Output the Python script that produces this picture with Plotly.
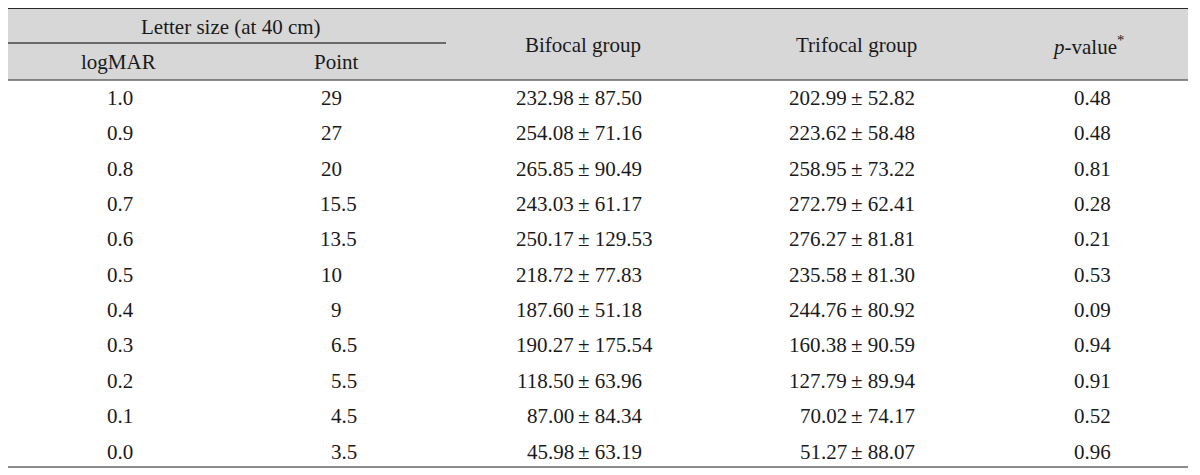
import plotly.graph_objects as go

# ---- data ----
logmar = ["1.0", "0.9", "0.8", "0.7", "0.6", "0.5", "0.4", "0.3", "0.2", "0.1", "0.0"]
point = ["29", "27", "20", "15.5", "13.5", "10", "9", "6.5", "5.5", "4.5", "3.5"]
bifocal_mean = ["232.98", "254.08", "265.85", "243.03", "250.17", "218.72", "187.60", "190.27", "118.50", "87.00", "45.98"]
bifocal_sd = ["87.50", "71.16", "90.49", "61.17", "129.53", "77.83", "51.18", "175.54", "63.96", "84.34", "63.19"]
trifocal_mean = ["202.99", "223.62", "258.95", "272.79", "276.27", "235.58", "244.76", "160.38", "127.79", "70.02", "51.27"]
trifocal_sd = ["52.82", "58.48", "73.22", "62.41", "81.81", "81.30", "80.92", "90.59", "89.94", "74.17", "88.07"]
p_values = ["0.48", "0.48", "0.81", "0.28", "0.21", "0.53", "0.09", "0.94", "0.91", "0.52", "0.96"]

header_group = "Letter size (at 40 cm)"
header_sub = ["logMAR", "Point"]
header_main = ["Bifocal group", "Trifocal group", "<i>p</i>-value<sup>*</sup>"]

# ---- layout geometry (page pixels; the page body has an 8px margin) ----
PAGE_W, PAGE_H, OFF = 1200, 475, 8
W, H = PAGE_W - OFF, PAGE_H - OFF
ROW0, ROWH = 98.0, 35.35
FONT = dict(family="Liberation Serif, Times New Roman, serif", size=21, color="#1a1a1a")


def row(pix):
    return (pix - ROW0) / ROWH


fig = go.Figure()
fig.add_trace(go.Scatter(x=[OFF, PAGE_W], y=[row(OFF), row(PAGE_H)], mode="markers",
                         marker=dict(opacity=0), hoverinfo="skip", showlegend=False))

ann = []


def add(text, x, y, xanchor="center"):
    ann.append(dict(text=text, x=x, y=y, xref="x", yref="y", xanchor=xanchor,
                    yanchor="middle", showarrow=False, font=FONT))


for i in range(len(logmar)):
    add(logmar[i], 120, i)
    if "." in point[i]:
        add(point[i], 359, i, "right")
    else:
        add(point[i], 344, i, "right")
    add(bifocal_mean[i], 576, i, "right")
    add("\u00b1 " + bifocal_sd[i], 576, i, "left")
    add(trifocal_mean[i], 849, i, "right")
    add("\u00b1 " + trifocal_sd[i], 849, i, "left")
    add(p_values[i], 1092, i)

# headers
add(header_group, 231, row(27))
add(header_sub[0], 118, row(62))
add(header_sub[1], 336, row(62))
add(header_main[0], 583, row(45))
add(header_main[1], 856, row(45))
add(header_main[2], 1088, row(45))

shapes = [
    dict(type="rect", xref="x", yref="y", x0=8, x1=1188, y0=row(8), y1=row(80),
         fillcolor="#d7d7d7", line=dict(width=0), layer="below"),
    dict(type="line", xref="x", yref="y", x0=8, x1=1188, y0=row(8), y1=row(8),
         line=dict(color="#2a2a2a", width=2)),
    dict(type="line", xref="x", yref="y", x0=8, x1=446, y0=row(43), y1=row(43),
         line=dict(color="#444444", width=1.5)),
    dict(type="line", xref="x", yref="y", x0=8, x1=1188, y0=row(80), y1=row(80),
         line=dict(color="#666666", width=1.5)),
    dict(type="line", xref="x", yref="y", x0=8, x1=1188, y0=row(467), y1=row(467),
         line=dict(color="#666666", width=1.5)),
]

fig.update_layout(
    width=W, height=H,
    margin=dict(l=0, r=0, t=0, b=0),
    paper_bgcolor="white", plot_bgcolor="white",
    xaxis=dict(range=[OFF, PAGE_W], visible=False, fixedrange=True),
    yaxis=dict(range=[row(PAGE_H), row(OFF)], visible=False, fixedrange=True),
    annotations=ann, shapes=shapes, showlegend=False,
)

fig.write_html("out.html", config={"displayModeBar": False})
